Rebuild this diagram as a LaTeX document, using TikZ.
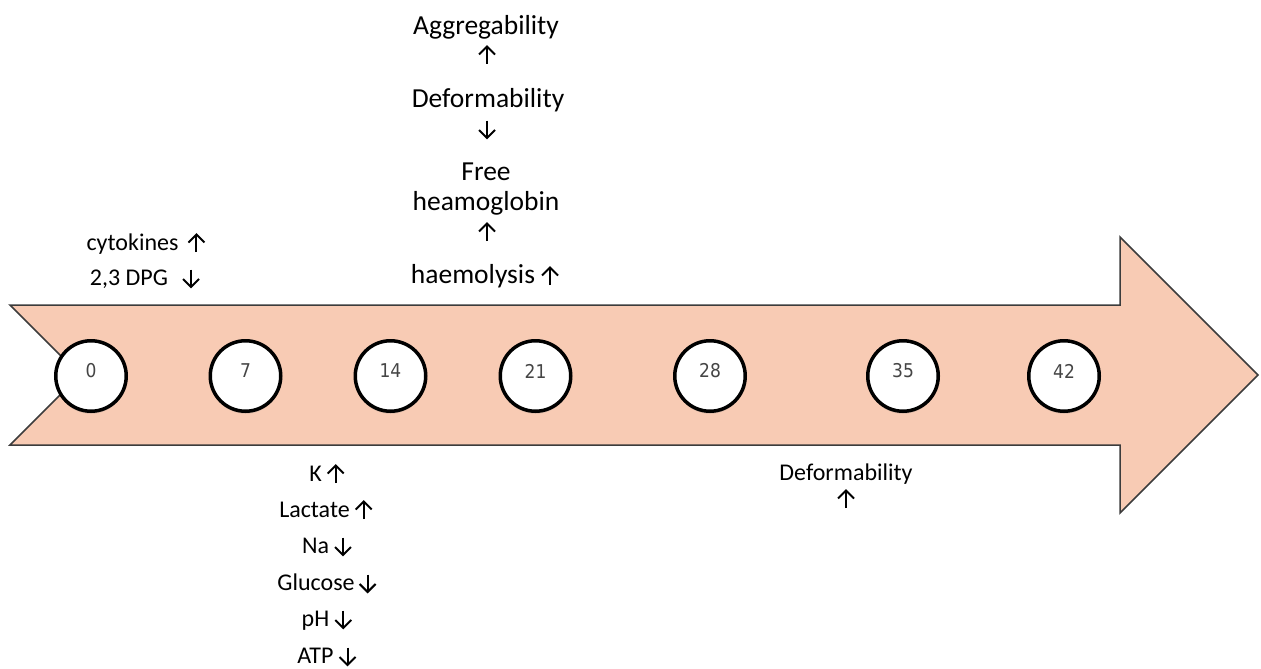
\documentclass[tikz,border=0pt]{standalone}
\usepackage{fontspec}
\setmainfont{Carlito}
\newfontfamily\numfont{DejaVu Sans Condensed}
\usetikzlibrary{shadows}
\definecolor{peach}{HTML}{F8CBB4}
\definecolor{rim}{HTML}{3C3C3C}
\definecolor{numgray}{HTML}{454545}

% small open-headed trend arrows set on the text baseline
\newcommand\upar{\tikz[baseline=0pt, x=1pt, y=1pt, line width=2pt, black]{%
  \draw (0,-2) -- (0,15.5); \draw (-8,7.5) -- (0,15.5) -- (8,7.5);}}
\newcommand\dnar{\tikz[baseline=0pt, x=1pt, y=1pt, line width=2pt, black]{%
  \draw (0,15.5) -- (0,-2); \draw (-8,6) -- (0,-2) -- (8,6);}}

\begin{document}
\begin{tikzpicture}[x=1pt,y=-1pt,
  daydot/.style={circle, draw=black, line width=3.5pt, fill=white,
    minimum size=70.5pt, inner sep=0pt,
    drop shadow={shadow xshift=0pt, shadow yshift=-2.5pt, opacity=0.25}},
  daynum/.style={font=\numfont\fontsize{19}{19}\selectfont, text=numgray, inner sep=0pt},
  bigtxt/.style={anchor=base, inner sep=0pt, font=\fontsize{27.5}{30}\selectfont},
  smalltxt/.style={anchor=base, inner sep=0pt, font=\fontsize{24}{28}\selectfont}]
\useasboundingbox (0,0) rectangle (1261,669);

% timeline arrow
\draw[fill=peach, draw=rim, line width=1.5pt]
  (10,305) -- (1120,305) -- (1120,237) -- (1258,375) -- (1120,513)
  -- (1120,445) -- (10,445) -- (80,375) -- cycle;

% storage days
\foreach \nm/\cx/\lbl in {d0/91/0, d7/245.5/7, d14/390.5/14, d21/535.5/21,
                          d28/710/28, d35/903/35, d42/1064/42} {
  \node[daydot] (\nm) at (\cx,376) {};
  \node[daynum, yshift=5pt] (\nm lbl) at (\nm.center) {\lbl};
}

% early changes
\node[smalltxt] (cyto) at (146,250) {cytokines\hspace{9pt}\upar};
\node[smalltxt] (dpg)  at (145,285) {2,3 DPG\hspace{14pt}\dnar};

% changes around day 21
\node[bigtxt] (agg)   at (486,35)  {Aggregability};
\node[bigtxt] (agga)  at (487,62)  {\upar};
\node[bigtxt] (def)   at (488,107) {Deformability};
\node[bigtxt] (defa)  at (487,136) {\dnar};
\node[bigtxt] (free)  at (486,180) {Free};
\node[bigtxt] (hb)    at (486,210) {heamoglobin};
\node[bigtxt] (hba)   at (487,239) {\upar};
\node[bigtxt] (haem)  at (485,283) {haemolysis\hspace{6pt}\upar};

% metabolic changes around day 14
\node[smalltxt] (k)    at (327,481) {K\hspace{5pt}\upar};
\node[smalltxt] (lac)  at (326,517) {Lactate\hspace{5pt}\upar};
\node[smalltxt] (na)   at (327,553) {Na\hspace{5pt}\dnar};
\node[smalltxt] (glu)  at (327,590) {Glucose\hspace{4pt}\dnar};
\node[smalltxt] (ph)   at (327,626) {pH\hspace{5pt}\dnar};
\node[smalltxt] (atp)  at (327,663) {ATP\hspace{5pt}\dnar};

% late change
\node[smalltxt] (def2)  at (846,480) {Deformability};
\node[smalltxt] (def2a) at (846,506) {\upar};
\end{tikzpicture}
\end{document}
